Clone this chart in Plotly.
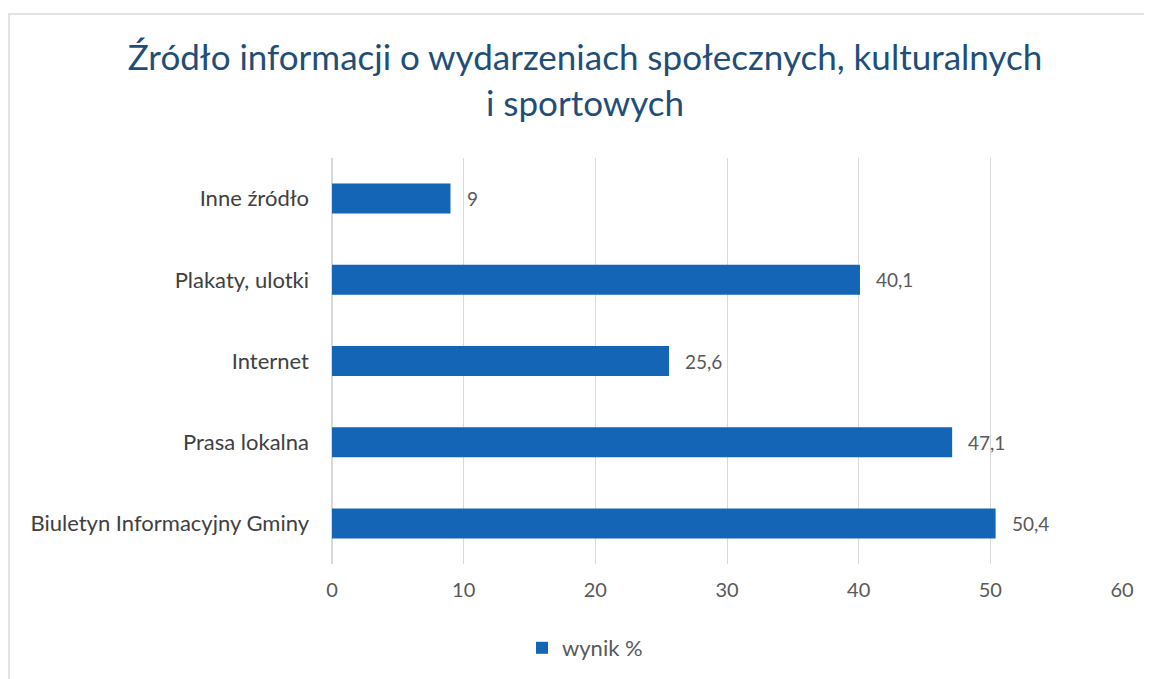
import plotly.graph_objects as go

categories = ["Biuletyn Informacyjny Gminy", "Prasa lokalna", "Internet", "Plakaty, ulotki", "Inne źródło"]
values = [50.4, 47.1, 25.6, 40.1, 9]
labels = ["50,4", "47,1", "25,6", "40,1", "9"]
series_name = "wynik %"
title_text = "Źródło informacji o wydarzeniach społecznych, kulturalnych<br>i sportowych"

FONT = "Lato, Open Sans, sans-serif"
# page has an 8px body margin, so the figure is drawn a bit smaller
W, H = 1144, 671
L, R, T, B = 324, 30, 150, 115
PW, PH = W - L - R, H - T - B


def px_x(x):
    return (x - L) / PW


def px_y(y):
    return 1 - (y - T) / PH


fig = go.Figure()
fig.add_trace(go.Bar(
    y=categories, x=values, orientation="h", name=series_name,
    marker=dict(color="#1565b7", line=dict(width=0)),
    width=0.37,
))

for c, v, t in zip(categories, values, labels):
    fig.add_annotation(x=v, y=c, text=t, showarrow=False, xanchor="left", xshift=14,
                       font=dict(family=FONT, size=19, color="#595959"))

fig.update_layout(
    width=W, height=H,
    margin=dict(l=L, r=R, t=T, b=B, autoexpand=False),
    paper_bgcolor="white", plot_bgcolor="white",
    title=dict(text=title_text, x=(585 - 8) / W, xanchor="center", y=1 - 62 / H, yanchor="top",
               font=dict(family=FONT, size=35, color="#1f4e79")),
    xaxis=dict(range=[0, 60], dtick=10, showgrid=True, gridcolor="#d9d9d9", gridwidth=1,
               zeroline=True, zerolinecolor="#d9d9d9", showline=False, ticks="",
               tickfont=dict(family=FONT, size=20, color="#595959"),
               ticklabelstandoff=12, fixedrange=True, automargin=False),
    yaxis=dict(showgrid=False, showline=False, ticks="", ticklabelstandoff=22, automargin=False,
               tickfont=dict(family=FONT, size=22, color="#404040")),
    showlegend=True,
    legend=dict(orientation="h", x=px_x(522 - 8), xanchor="left",
                y=px_y(640), yanchor="middle",
                font=dict(family=FONT, size=22, color="#595959"),
                itemwidth=30),
)

# faint chart border (top and left edges only)
fig.add_shape(type="line", xref="paper", yref="paper",
              x0=px_x(0), x1=px_x(W), y0=px_y(6), y1=px_y(6),
              line=dict(color="#e3e3e3", width=2), layer="below")
fig.add_shape(type="line", xref="paper", yref="paper",
              x0=px_x(1), x1=px_x(1), y0=px_y(6), y1=px_y(H),
              line=dict(color="#e3e3e3", width=2), layer="below")

fig.write_html("out.html")
